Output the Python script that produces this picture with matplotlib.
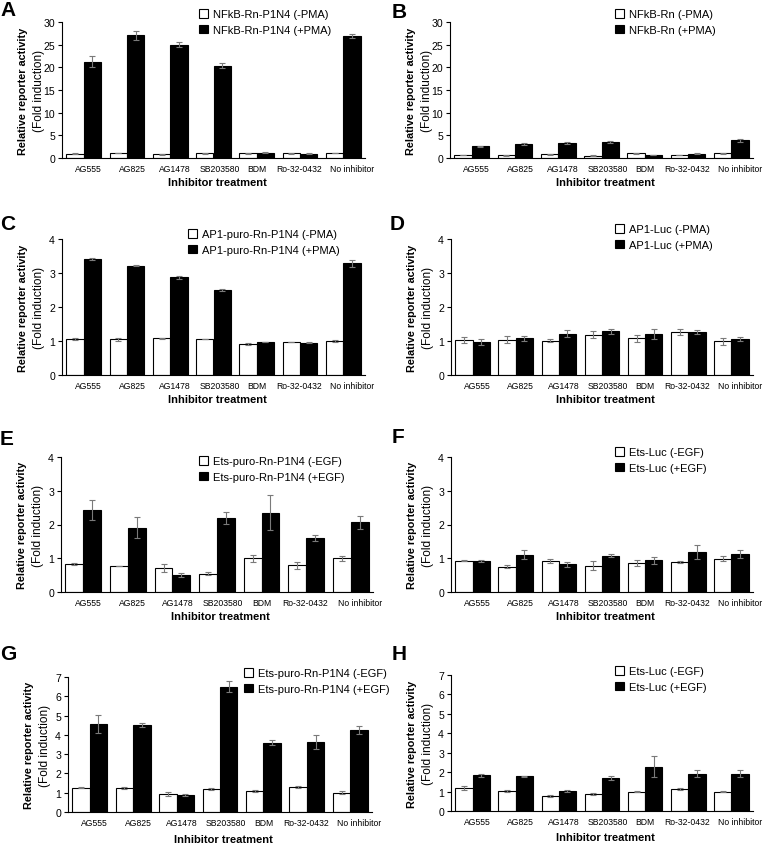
import numpy as np
import matplotlib.pyplot as plt
from matplotlib.patches import Patch

plt.rcParams['font.family'] = ['Liberation Sans', 'DejaVu Sans']

inhibitors = ["AG555", "AG825", "AG1478", "SB203580", "BDM", "Ro-32-0432", "No inhibitor"]

# panel A: NFkB-Rn-P1N4
a_minus = [0.95, 1.1, 0.8, 1.0, 1.0, 1.0, 1.1]
a_minus_err = [0.05, 0.1, 0.1, 0.1, 0.05, 0.05, 0.1]
a_plus = [21.2, 27.1, 25.0, 20.4, 1.2, 0.9, 26.9]
a_plus_err = [1.2, 1.0, 0.5, 0.5, 0.1, 0.1, 0.4]

# panel B: NFkB-Rn
b_minus = [0.7, 0.6, 0.8, 0.5, 1.0, 0.7, 1.0]
b_minus_err = [0.05, 0.1, 0.1, 0.1, 0.05, 0.05, 0.05]
b_plus = [2.6, 3.1, 3.3, 3.5, 0.7, 0.9, 3.9]
b_plus_err = [0.1, 0.3, 0.15, 0.15, 0.05, 0.1, 0.4]

# panel C: AP1-puro-Rn-P1N4
c_minus = [1.05, 1.05, 1.08, 1.06, 0.91, 0.97, 1.0]
c_minus_err = [0.03, 0.05, 0.02, 0.01, 0.03, 0.01, 0.03]
c_plus = [3.41, 3.22, 2.87, 2.51, 0.97, 0.95, 3.28]
c_plus_err = [0.04, 0.01, 0.05, 0.03, 0.01, 0.01, 0.1]

# panel D: AP1-Luc
d_minus = [1.04, 1.04, 1.01, 1.19, 1.08, 1.26, 0.99]
d_minus_err = [0.09, 0.1, 0.04, 0.1, 0.1, 0.08, 0.1]
d_plus = [0.98, 1.08, 1.22, 1.28, 1.2, 1.27, 1.06]
d_plus_err = [0.09, 0.07, 0.1, 0.06, 0.14, 0.05, 0.06]

# panel E: Ets-puro-Rn-P1N4
e_minus = [0.83, 0.77, 0.70, 0.54, 1.0, 0.79, 1.0]
e_minus_err = [0.03, 0.01, 0.12, 0.04, 0.11, 0.11, 0.08]
e_plus = [2.42, 1.91, 0.50, 2.19, 2.35, 1.60, 2.06]
e_plus_err = [0.3, 0.3, 0.07, 0.17, 0.51, 0.08, 0.18]

# panel F: Ets-Luc
f_minus = [0.93, 0.75, 0.93, 0.78, 0.87, 0.9, 0.99]
f_minus_err = [0.02, 0.05, 0.06, 0.13, 0.09, 0.03, 0.08]
f_plus = [0.92, 1.1, 0.82, 1.08, 0.94, 1.18, 1.12]
f_plus_err = [0.04, 0.13, 0.08, 0.05, 0.1, 0.2, 0.12]

# panel G: Ets-puro-Rn-P1N4 (second experiment)
g_minus = [1.27, 1.25, 0.92, 1.17, 1.1, 1.28, 1.0]
g_minus_err = [0.04, 0.05, 0.1, 0.05, 0.05, 0.05, 0.08]
g_plus = [4.56, 4.52, 0.88, 6.5, 3.59, 3.64, 4.25]
g_plus_err = [0.45, 0.12, 0.05, 0.3, 0.12, 0.35, 0.22]

# panel H: Ets-Luc (second experiment)
h_minus = [1.17, 1.03, 0.78, 0.88, 1.0, 1.13, 1.0]
h_minus_err = [0.1, 0.05, 0.06, 0.06, 0.04, 0.03, 0.02]
h_plus = [1.85, 1.78, 1.03, 1.72, 2.28, 1.93, 1.93]
h_plus_err = [0.08, 0.02, 0.07, 0.1, 0.55, 0.18, 0.2]

W, H = 766, 853
fig = plt.figure(figsize=(W / 100, H / 100), dpi=100)

# labels in the original sit a little off the group centres (pixels)
label_shift = np.array([5, 5, 5, 6, 0, -1, 9])


def draw_panel(box, letter, letter_pos, minus, minus_err, plus, plus_err,
               ymax, ystep, legend_labels, legend_pos, xlabel_y):
    left, top, right, bottom = box
    ax = fig.add_axes([left / W, 1 - bottom / H, (right - left) / W, (bottom - top) / H])
    n = len(inhibitors)
    x = np.arange(n)
    w = 0.4
    ekw = dict(ecolor='#7a7a7a', elinewidth=0.8, capsize=2.5, capthick=0.8)
    ax.bar(x - w / 2, minus, w, color='white', edgecolor='black', linewidth=0.8,
           yerr=minus_err, error_kw=ekw)
    ax.bar(x + w / 2, plus, w, color='black', edgecolor='black', linewidth=0.8,
           yerr=plus_err, error_kw=ekw)
    ax.set_xlim(-0.5, n - 0.5)
    ax.set_ylim(0, ymax)
    ax.set_yticks(np.arange(0, ymax + 0.01, ystep))
    group_px = (right - left) / n
    ax.set_xticks(x + label_shift / group_px)
    ax.set_xticklabels(inhibitors, fontsize=6.2)
    ax.tick_params(axis='x', length=0, pad=4)
    ax.tick_params(axis='y', length=3, width=0.8, labelsize=7.6, pad=2)
    for s in ['top', 'right']:
        ax.spines[s].set_visible(False)
    for s in ['left', 'bottom']:
        ax.spines[s].set_linewidth(0.8)

    mid = (top + bottom) / 2
    fig.text((left - 39) / W, 1 - mid / H, "Relative reporter activity", rotation=90,
             ha='center', va='center', fontsize=7.8, fontweight='bold')
    fig.text((left - 23) / W, 1 - mid / H, "(Fold induction)", rotation=90,
             ha='center', va='center', fontsize=8.6)
    fig.text((left + right) / 2 / W + 0.005, 1 - xlabel_y / H, "Inhibitor treatment",
             ha='center', va='center', fontsize=8, fontweight='bold')
    fig.text(letter_pos[0] / W, 1 - letter_pos[1] / H, letter, ha='left', va='center',
             fontsize=15, fontweight='bold')

    handles = [Patch(facecolor='white', edgecolor='black', linewidth=0.8),
               Patch(facecolor='black', edgecolor='black', linewidth=0.8)]
    ax.legend(handles, legend_labels, loc='upper left',
              bbox_to_anchor=(legend_pos[0] / W, 1 - (legend_pos[1] - 5) / H),
              bbox_transform=fig.transFigure, frameon=False, fontsize=8,
              handlelength=0.8, handleheight=0.8, handletextpad=0.5,
              borderpad=0, borderaxespad=0, labelspacing=0.5)
    return ax


draw_panel((62, 23, 365, 159), "A", (0, 11), a_minus, a_minus_err, a_plus, a_plus_err,
           30, 5, ["NFkB-Rn-P1N4 (-PMA)", "NFkB-Rn-P1N4 (+PMA)"], (199, 15), 183)
draw_panel((450, 23, 753, 159), "B", (392, 12), b_minus, b_minus_err, b_plus, b_plus_err,
           30, 5, ["NFkB-Rn (-PMA)", "NFkB-Rn (+PMA)"], (615, 15), 183)
draw_panel((62, 240, 365, 376), "C", (0, 224), c_minus, c_minus_err, c_plus, c_plus_err,
           4, 1, ["AP1-puro-Rn-P1N4 (-PMA)", "AP1-puro-Rn-P1N4 (+PMA)"], (188, 235), 400)
draw_panel((451, 240, 753, 376), "D", (390, 225), d_minus, d_minus_err, d_plus, d_plus_err,
           4, 1, ["AP1-Luc (-PMA)", "AP1-Luc (+PMA)"], (615, 230), 400)
draw_panel((61, 458, 373, 593), "E", (0, 440), e_minus, e_minus_err, e_plus, e_plus_err,
           4, 1, ["Ets-puro-Rn-P1N4 (-EGF)", "Ets-puro-Rn-P1N4 (+EGF)"], (199, 462), 617)
draw_panel((451, 458, 753, 593), "F", (392, 438), f_minus, f_minus_err, f_plus, f_plus_err,
           4, 1, ["Ets-Luc (-EGF)", "Ets-Luc (+EGF)"], (615, 453), 617)
draw_panel((68, 678, 372, 813), "G", (0, 655), g_minus, g_minus_err, g_plus, g_plus_err,
           7, 1, ["Ets-puro-Rn-P1N4 (-EGF)", "Ets-puro-Rn-P1N4 (+EGF)"], (244, 674), 840)
draw_panel((451, 676, 753, 812), "H", (392, 655), h_minus, h_minus_err, h_plus, h_plus_err,
           7, 1, ["Ets-Luc (-EGF)", "Ets-Luc (+EGF)"], (615, 672), 838)

fig.savefig("out.png", dpi=100, facecolor='white')
